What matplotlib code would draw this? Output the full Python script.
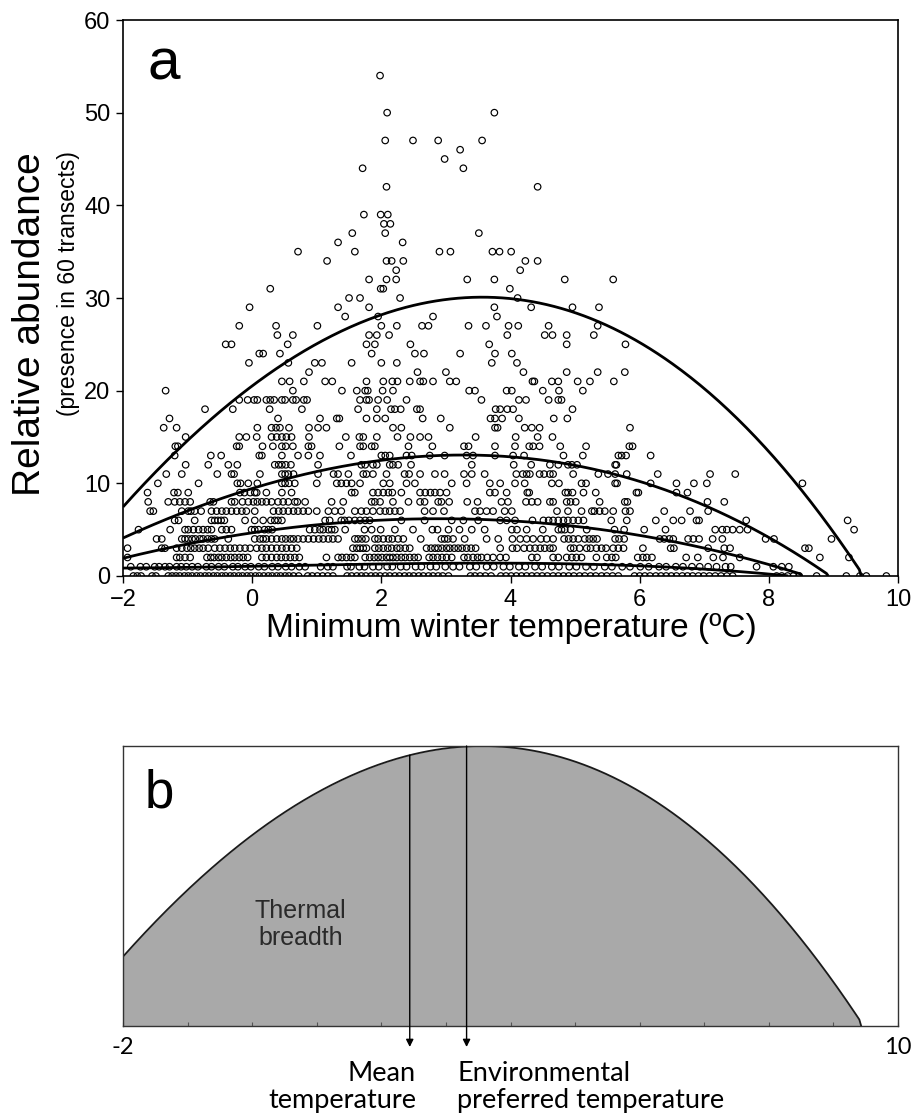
import numpy as np
import matplotlib
matplotlib.use("Agg")
import matplotlib.pyplot as plt

# ------------------------------------------------------------------
# DATA  (x = minimum winter temperature of each point, grouped by
#        its relative abundance value, read from the picture)
# ------------------------------------------------------------------
a54 = [1.98]
a50 = [2.09, 3.75]
a47 = [2.06, 2.49, 2.88, 3.56]
a46 = [3.22]
a45 = [2.98]
a44 = [1.71, 3.27]
a42 = [2.08, 4.42]
a39 = [1.73, 1.99, 2.10]
a38 = [2.04, 2.14]
a37 = [1.55, 2.06, 3.51]
a36 = [1.33, 2.33]
a35 = [0.71, 1.59, 2.90, 3.07, 3.72, 3.83, 4.01]
a34 = [1.16, 2.08, 2.16, 2.34, 4.23, 4.42]
a33 = [2.23, 4.15]
a32 = [1.81, 2.08, 2.23, 3.33, 3.75, 4.84, 5.59]
a31 = [0.28, 1.99, 2.03, 3.99]
a30 = [1.50, 1.67, 2.29, 4.11]
a29 = [-0.04, 1.33, 1.81, 3.75, 4.32, 4.96, 5.37]
a28 = [1.44, 1.95, 2.80, 3.79]
a27 = [-0.20, 0.37, 1.01, 2.00, 2.24, 2.63, 2.73, 3.35, 3.62, 3.97, 4.12, 4.59, 5.35]
a26 = [0.39, 0.63, 1.81, 1.93, 2.12, 3.95, 4.53, 4.65, 4.87, 5.29]
a25 = [-0.41, -0.32, 0.55, 1.77, 1.90, 2.45, 3.67, 4.87, 5.78]
a24 = [0.11, 0.17, 0.43, 1.85, 2.52, 2.66, 3.22, 3.76, 4.02]
a23 = [-0.05, 0.56, 0.97, 1.08, 1.54, 2.00, 2.24, 3.71, 4.10]
a22 = [0.88, 2.56, 3.00, 4.20, 4.87, 5.35, 5.77]
a21 = [0.46, 0.58, 0.80, 1.13, 1.24, 1.77, 2.03, 2.17, 2.25, 2.44, 2.60, 2.65,
       2.80, 3.06, 3.16, 4.34, 4.37, 4.64, 4.74, 5.04, 5.23, 5.60]
a20 = [-1.34, 0.63, 1.39, 1.62, 1.75, 1.79, 2.02, 2.18, 3.36, 3.45, 3.94, 4.02,
       4.50, 4.75, 5.12]
a19 = [-0.20, -0.07, 0.03, 0.08, 0.22, 0.28, 0.34, 0.46, 0.51, 0.63, 0.68, 0.80,
       0.85, 1.67, 1.77, 1.81, 1.95, 2.09, 2.39, 3.55, 4.13, 4.24, 4.59, 4.74, 4.79]
a18 = [-0.73, -0.30, 0.27, 0.77, 1.64, 1.93, 2.15, 2.21, 2.30, 2.55, 2.60, 3.77,
       3.84, 3.95, 4.04, 4.96]
a17 = [-1.28, 0.40, 1.05, 1.31, 1.35, 1.77, 1.93, 2.06, 2.64, 2.92, 3.69, 3.76,
       3.87, 4.13, 4.67, 4.88]
a16 = [-1.37, -1.17, 0.08, 0.30, 0.37, 0.43, 0.57, 0.88, 1.02, 1.15, 2.18, 2.31,
       3.06, 3.76, 3.80, 4.22, 4.33, 4.45, 5.85]
a15 = [-1.03, -0.20, -0.09, 0.07, 0.30, 0.38, 0.46, 0.53, 0.61, 0.88, 1.45, 1.66,
       1.72, 1.93, 2.25, 2.45, 2.60, 2.73, 3.46, 4.08, 4.42, 4.65]
a14 = [-1.19, -1.15, -0.24, -0.20, 0.16, 0.32, 0.46, 0.52, 0.63, 0.87, 0.92, 1.35,
       1.67, 1.72, 1.85, 1.90, 2.42, 2.79, 3.28, 3.35, 3.76, 4.07, 4.29, 4.35,
       4.45, 4.77, 5.17, 5.84, 5.89]
a13 = [-1.20, -0.64, -0.48, 0.11, 0.15, 0.46, 0.71, 0.87, 1.05, 1.53, 2.00, 2.06,
       2.13, 2.39, 2.47, 2.75, 2.98, 3.32, 3.42, 3.76, 4.04, 4.21, 4.82, 5.12,
       5.67, 5.72, 5.79, 6.17]
a12 = [-1.03, -0.68, -0.37, -0.23, 0.35, 0.41, 0.46, 0.52, 0.60, 1.02, 1.69, 1.75,
       1.87, 1.93, 2.13, 2.18, 2.26, 2.46, 3.40, 4.05, 4.32, 4.61, 4.74, 4.89,
       4.95, 5.03, 5.62, 5.64]
a11 = [-1.33, -1.09, -0.54, -0.32, -0.28, 0.12, 0.46, 0.51, 0.56, 0.64, 1.02, 1.26,
       1.33, 1.49, 1.72, 1.77, 1.87, 2.08, 2.36, 2.43, 2.60, 2.83, 2.98, 3.28,
       3.40, 3.60, 4.09, 4.19, 4.25, 4.30, 4.45, 4.52, 4.61, 4.66, 4.97, 5.36,
       5.51, 5.62, 5.80, 6.28, 7.09, 7.48]
a10 = [-1.46, -0.83, -0.23, -0.18, -0.06, 0.08, 0.46, 0.51, 0.57, 0.66, 1.00, 1.31,
       1.38, 1.46, 1.54, 1.67, 2.03, 2.13, 2.39, 2.52, 3.09, 3.32, 3.68, 3.84,
       4.07, 4.22, 4.64, 4.75, 5.10, 5.17, 5.62, 5.65, 6.17, 6.57, 6.84, 7.04, 8.52]
a09 = [-1.62, -1.21, -1.15, -0.99, -0.19, -0.12, -0.03, 0.04, 0.07, 0.22, 0.46,
       0.61, 1.54, 1.59, 1.87, 1.95, 2.03, 2.11, 2.17, 2.31, 2.60, 2.68, 2.76,
       2.83, 2.91, 3.01, 3.68, 3.76, 3.94, 4.26, 4.29, 4.85, 4.89, 4.96, 5.13,
       5.32, 5.95, 5.98, 6.57, 6.74]
a08 = [-1.61, -1.30, -1.20, -1.12, -1.04, -0.96, -0.65, -0.60, -0.32, -0.27,
       -0.15, -0.06, 0.02, 0.08, 0.15, 0.22, 0.30, 0.40, 0.48, 0.56, 0.66, 0.70,
       0.82, 1.23, 1.41, 1.85, 1.90, 1.98, 2.18, 2.42, 2.60, 2.67, 2.88, 2.93,
       3.05, 3.33, 3.49, 3.86, 3.96, 4.24, 4.33, 4.42, 4.61, 4.66, 4.87, 4.93,
       5.01, 5.38, 5.77, 5.81, 7.05, 7.31]
a07 = [-1.58, -1.53, -1.09, -0.99, -0.95, -0.89, -0.79, -0.63, -0.55, -0.47,
       -0.40, -0.32, -0.24, -0.16, -0.09, 0.04, 0.33, 0.41, 0.48, 0.56, 0.64,
       0.71, 0.79, 0.87, 1.00, 1.18, 1.28, 1.38, 1.59, 1.69, 1.77, 1.87, 1.98,
       2.06, 2.13, 2.21, 2.29, 2.67, 2.80, 2.97, 3.45, 3.53, 3.63, 3.73, 3.91,
       4.02, 4.72, 4.89, 5.10, 5.26, 5.30, 5.38, 5.46, 5.59, 5.78, 5.85, 6.38,
       6.78, 7.06]
a06 = [-1.20, -1.14, -0.89, -0.63, -0.58, -0.53, -0.48, -0.43, -0.11, 0.04, 0.17,
       0.29, 0.35, 0.40, 0.46, 1.13, 1.20, 1.38, 1.43, 1.50, 1.59, 1.67, 1.75,
       1.82, 2.31, 2.67, 3.09, 3.27, 3.50, 3.84, 3.94, 4.07, 4.34, 4.51, 4.59,
       4.66, 4.74, 4.82, 4.89, 4.97, 5.05, 5.13, 5.56, 5.80, 6.25, 6.52, 6.65,
       6.88, 6.92, 7.65, 9.22]
a05 = [-1.76, -1.27, -1.04, -0.99, -0.91, -0.83, -0.76, -0.69, -0.63, -0.47,
       -0.40, -0.32, -0.01, 0.04, 0.10, 0.19, 0.25, 0.31, 0.89, 0.97, 1.05, 1.10,
       1.18, 1.23, 1.28, 1.44, 1.74, 1.85, 1.99, 2.21, 2.49, 2.79, 2.87, 3.04,
       3.21, 3.40, 3.60, 4.02, 4.10, 4.25, 4.50, 4.74, 4.79, 4.84, 4.93, 5.18,
       5.61, 5.76, 6.07, 6.40, 7.17, 7.28, 7.35, 7.44, 7.55, 7.67, 9.32]
a04 = [-1.48, -1.40, -1.09, -1.04, -0.99, -0.93, -0.88, -0.81, -0.76, -0.69,
       -0.63, -0.58, -0.37, 0.04, 0.12, 0.17, 0.22, 0.30, 0.38, 0.46, 0.52, 0.59,
       0.64, 0.71, 0.79, 0.87, 0.95, 1.03, 1.10, 1.18, 1.25, 1.33, 1.59, 1.64,
       1.70, 1.76, 1.90, 1.95, 2.03, 2.11, 2.17, 2.26, 2.34, 2.61, 2.93, 2.98,
       3.03, 3.11, 3.29, 3.63, 3.81, 4.03, 4.15, 4.25, 4.35, 4.47, 4.56, 4.66,
       4.83, 4.90, 4.97, 5.05, 5.15, 5.22, 5.28, 5.34, 5.62, 5.68, 5.76, 6.31,
       6.38, 6.46, 6.52, 6.75, 6.83, 6.92, 7.13, 7.28, 7.95, 8.08, 8.97]
a03 = [-1.93, -1.40, -1.35, -1.17, -1.09, -1.01, -0.95, -0.89, -0.82, -0.76,
       -0.68, -0.58, -0.50, -0.42, -0.34, -0.27, -0.19, -0.11, -0.03, 0.07, 0.15,
       0.22, 0.30, 0.38, 0.46, 0.53, 0.61, 0.69, 1.56, 1.62, 1.67, 1.72, 1.77,
       1.90, 1.96, 2.03, 2.10, 2.16, 2.24, 2.29, 2.37, 2.44, 2.70, 2.77, 2.83,
       2.88, 2.94, 3.01, 3.06, 3.13, 3.19, 3.25, 3.32, 3.39, 3.46, 3.84, 4.03,
       4.10, 4.21, 4.30, 4.38, 4.46, 4.53, 4.61, 4.66, 4.93, 4.98, 5.07, 5.18,
       5.24, 5.33, 5.41, 5.48, 5.59, 5.67, 5.75, 6.05, 6.48, 6.53, 7.06, 7.31,
       7.40, 8.56, 8.62]
a02 = [-1.93, -1.17, -1.12, -1.04, -0.96, -0.70, -0.64, -0.59, -0.52, -0.47,
       -0.40, -0.33, -0.27, -0.20, -0.14, -0.07, 0.15, 0.22, 0.30, 0.38, 0.45,
       0.52, 0.59, 0.66, 0.73, 1.15, 1.33, 1.39, 1.46, 1.53, 1.59, 1.75, 1.82,
       1.89, 1.95, 2.01, 2.08, 2.13, 2.18, 2.24, 2.31, 2.37, 2.44, 2.51, 2.57,
       2.74, 2.80, 2.87, 2.94, 3.01, 3.09, 3.28, 3.34, 3.42, 3.49, 3.55, 3.64,
       3.73, 3.84, 3.93, 4.33, 4.41, 4.66, 4.74, 4.87, 4.95, 5.02, 5.10, 5.33,
       5.49, 5.57, 5.63, 5.97, 6.05, 6.11, 6.19, 6.72, 6.90, 7.14, 7.29, 7.55,
       8.79, 9.24]
a01 = [-1.88, -1.73, -1.64, -1.51, -1.44, -1.35, -1.28, -1.17, -1.10, -1.02,
       -0.93, -0.84, -0.71, -0.63, -0.52, -0.43, -0.30, -0.22, -0.11, -0.02,
       0.10, 0.19, 0.31, 0.40, 0.52, 0.61, 0.73, 0.82, 1.06, 1.17, 1.25, 1.47,
       1.53, 1.66, 1.74, 1.87, 1.96, 2.09, 2.17, 2.30, 2.39, 2.53, 2.62, 2.76,
       2.85, 2.99, 3.11, 3.21, 3.37, 3.47, 3.63, 3.74, 3.89, 3.99, 4.13, 4.23,
       4.38, 4.49, 4.64, 4.75, 4.91, 5.02, 5.17, 5.29, 5.46, 5.57, 5.73, 5.85,
       6.01, 6.14, 6.30, 6.41, 6.56, 6.67, 6.81, 6.93, 7.06, 7.19, 7.33, 7.41,
       7.81, 8.07, 8.20, 8.31]
a00 = [-1.84, -1.78, -1.72, -1.55, -1.49, -1.30, -1.24, -1.18, -1.12, -1.05,
       -0.99, -0.93, -0.86, -0.80, -0.73, -0.67, -0.60, -0.54, -0.47, -0.41,
       -0.34, -0.28, -0.21, -0.15, -0.08, -0.02, 0.05, 0.11, 0.18, 0.25, 0.31,
       0.38, 0.44, 0.51, 0.57, 0.64, 0.72, 0.86, 0.93, 1.01, 1.09, 1.17, 1.25,
       1.47, 1.54, 1.62, 1.69, 1.76, 1.84, 1.91, 1.98, 2.06, 2.13, 2.21, 2.28,
       2.36, 2.43, 2.50, 2.58, 2.65, 2.73, 2.80, 2.88, 2.95, 3.04, 3.38, 3.45,
       3.53, 3.61, 3.70, 3.85, 3.93, 4.01, 4.09, 4.17, 4.25, 4.33, 4.41, 4.49,
       4.57, 4.66, 4.74, 4.82, 4.90, 4.98, 5.07, 5.15, 5.24, 5.32, 5.41, 5.49,
       5.58, 5.67, 5.92, 6.00, 6.08, 6.16, 6.25, 6.33, 6.41, 6.49, 6.57, 6.66,
       6.74, 6.82, 6.91, 6.99, 7.08, 7.17, 7.26, 7.35, 7.44, 8.12, 8.20, 8.29,
       8.38, 8.47, 8.74, 9.20, 9.41, 9.51, 9.82]

# fitted response curves: points read along each curve of panel a
curve1_x = [-2.0, -0.81, 0.0, 1.26, 2.80, 3.17, 3.46, 3.71, 4.32, 5.38, 6.93, 8.48, 9.43]
curve1_y = [7.5, 15.4, 21.1, 25.8, 29.7, 30.1, 30.1, 30.1, 29.4, 27.3, 20.4, 10.2, 0.0]
curve2_x = [-2.0, 0.0, 2.0, 3.2, 4.5, 5.38, 6.93, 8.48, 8.92]
curve2_y = [4.2, 9.1, 12.8, 13.1, 12.6, 11.1, 7.8, 2.4, 0.0]
curve3_x = [-2.0, 1.26, 3.3, 6.7, 7.73, 8.51]
curve3_y = [1.9, 5.75, 6.1, 3.3, 2.1, 0.0]
curve4_x = [-2.0, 1.0, 4.0, 6.7, 8.3]
curve4_y = [0.85, 1.2, 1.35, 0.9, 0.0]

mean_temperature = 2.44
preferred_temperature = 3.32

x_ticks_a = [-2, 0, 2, 4, 6, 8, 10]
y_ticks_a = [0, 10, 20, 30, 40, 50, 60]

level_lists = {54: a54, 50: a50, 47: a47, 46: a46, 45: a45, 44: a44, 42: a42,
               39: a39, 38: a38, 37: a37, 36: a36, 35: a35, 34: a34, 33: a33,
               32: a32, 31: a31, 30: a30, 29: a29, 28: a28, 27: a27, 26: a26,
               25: a25, 24: a24, 23: a23, 22: a22, 21: a21, 20: a20, 19: a19,
               18: a18, 17: a17, 16: a16, 15: a15, 14: a14, 13: a13, 12: a12,
               11: a11, 10: a10, 9: a09, 8: a08, 7: a07, 6: a06, 5: a05, 4: a04,
               3: a03, 2: a02, 1: a01, 0: a00}

# ------------------------------------------------------------------
W, H = 916, 1118
fig = plt.figure(figsize=(W / 100, H / 100), dpi=100)
fig.patch.set_facecolor("white")
ARIAL = ["Liberation Sans", "DejaVu Sans"]
CALI = ["Lato", "DejaVu Sans"]


def fx(px):
    return px / W


def fy(py):
    return 1 - py / H


def fitted(cx, cy, n=400):
    coef = np.polyfit(cx, cy, 3)
    xs = np.linspace(cx[0], cx[-1], n)
    ys = np.clip(np.polyval(coef, xs), 0, None)
    ys[-1] = cy[-1]
    return xs, ys


# ---------------- panel a ----------------
ax = fig.add_axes([fx(123), fy(576), fx(775), 556 / H])
xs_all, ys_all = [], []
for lev, xl in level_lists.items():
    xs_all.extend(xl)
    ys_all.extend([lev] * len(xl))
ax.scatter(xs_all, ys_all, s=22, facecolors="none", edgecolors="black",
           linewidths=0.85, zorder=2)
for cx, cy in [(curve1_x, curve1_y), (curve2_x, curve2_y),
               (curve3_x, curve3_y), (curve4_x, curve4_y)]:
    xx, yy = fitted(cx, cy)
    ax.plot(xx, yy, color="black", lw=2.0, zorder=3, solid_capstyle="butt")

ax.set_xlim(-2, 10)
ax.set_ylim(0, 60)
ax.set_xticks(x_ticks_a)
ax.set_yticks(y_ticks_a)
ax.tick_params(direction="out", length=5, width=1, labelsize=17, pad=4)
for lab in ax.get_xticklabels() + ax.get_yticklabels():
    lab.set_family(ARIAL)
for sp in ax.spines.values():
    sp.set_linewidth(1.2)

fig.text(fx(148), fy(80), "a", fontsize=42, family=ARIAL, ha="left",
         va="baseline")
fig.text(fx(30), fy(324), "Relative abundance", rotation=90, fontsize=28,
         family=ARIAL, ha="center", va="center")
fig.text(fx(69), fy(284), "(presence in 60 transects)", rotation=90,
         fontsize=16.5, family=ARIAL, ha="center", va="center")
fig.text(fx(511), fy(628), "Minimum winter temperature (ºC)", fontsize=24,
         family=ARIAL, ha="center", va="center")

# ---------------- panel b ----------------
bx = fig.add_axes([fx(123), fy(1026), fx(775), 280 / H])
xb, yb = fitted(curve1_x, curve1_y)
peak = yb.max()
bx.fill_between(xb, 0, yb, color="#a9a9a9", lw=0, zorder=1)
bx.plot(xb, yb, color="#1a1a1a", lw=1.3, zorder=2)
bx.set_xlim(-2, 10)
bx.set_ylim(0, peak)
bx.set_yticks([])
bx.set_xticks(range(-2, 11))
bx.set_xticklabels(["-2"] + [""] * 11 + ["10"])
bx.tick_params(axis="x", direction="in", length=3, width=0.8, labelsize=17,
               pad=8, colors="#555555", labelcolor="black")
for lab in bx.get_xticklabels():
    lab.set_family(CALI)
for sp in bx.spines.values():
    sp.set_linewidth(1.0)
    sp.set_color("#333333")

y_mean_top = np.interp(mean_temperature, xb, yb)
for xv, ytop in [(mean_temperature, y_mean_top), (preferred_temperature, peak)]:
    bx.annotate("", xy=(xv, -0.075), xycoords=("data", "axes fraction"),
                xytext=(xv, ytop / peak), textcoords=("data", "axes fraction"),
                arrowprops=dict(arrowstyle="-|>", color="black", lw=1.0,
                                mutation_scale=11, shrinkA=0, shrinkB=0),
                annotation_clip=False, zorder=5)

fig.text(fx(145), fy(807), "b", fontsize=38, family=ARIAL, ha="left",
         va="baseline")
bx.text(0.75, 0.364, "Thermal\nbreadth", transform=bx.get_xaxis_transform(),
        fontsize=18, family=ARIAL, color="#2a2a2a",
        ha="center", va="center", linespacing=1.15)
fig.text(fx(416), fy(1061), "Mean\ntemperature", fontsize=19.5, family=CALI,
         ha="right", va="top", multialignment="right", linespacing=1.12)
fig.text(fx(457), fy(1061), "Environmental\npreferred temperature",
         fontsize=19.5, family=CALI, ha="left", va="top",
         multialignment="left", linespacing=1.12)

fig.savefig("out.png", dpi=100, facecolor="white")
